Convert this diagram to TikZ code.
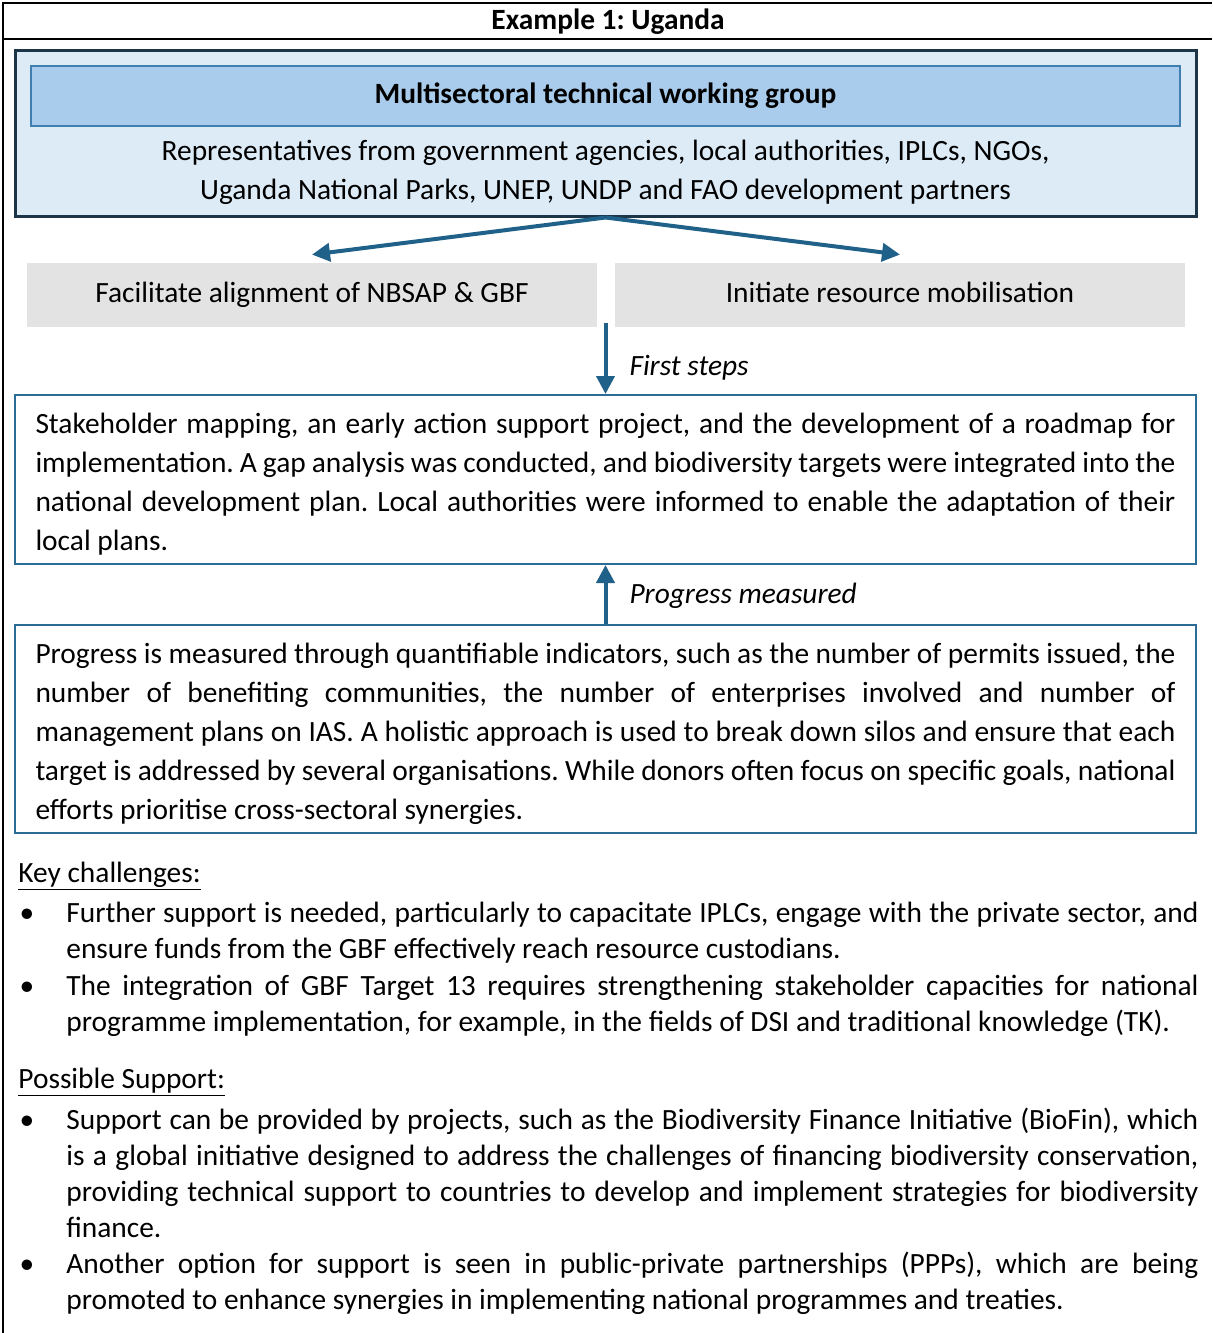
\documentclass[tikz,border=0pt]{standalone}
\usepackage{fontspec}
\setmainfont{Carlito}
\usepackage{tikz}
\usetikzlibrary{arrows.meta}
\definecolor{wgfill}{HTML}{DDEBF7}
\definecolor{wgdraw}{HTML}{1C3547}
\definecolor{headfill}{HTML}{A9CCEC}
\definecolor{headdraw}{HTML}{3F7FAF}
\definecolor{flowblue}{HTML}{1F6189}
\definecolor{boxblue}{HTML}{2C6D98}
\definecolor{boxgrey}{HTML}{E3E3E3}
\newcommand{\boxtop}{\rule{0pt}{19pt}}
\newcommand{\boxbot}{\rule[-7pt]{0pt}{7pt}}
\tikzset{flow/.style={draw=flowblue, line width=2pt, -{Triangle[width=9pt,length=9pt]}},
         steplabel/.style={pos=0.74, anchor=base west, inner sep=0pt, xshift=11pt, font=\itshape},
         wgbox/.style={fill=wgfill, draw=wgdraw, line width=1.5pt, inner sep=0pt},
         headbox/.style={fill=headfill, draw=headdraw, line width=1pt, inner sep=0pt,
                         minimum width=574.5pt, minimum height=30pt,
                         text height=10pt, text depth=3pt, font=\bfseries},
         greybox/.style={fill=boxgrey, inner sep=0pt, minimum width=285pt, minimum height=32pt,
                         text height=10pt, text depth=3pt},
         textbox/.style={draw=boxblue, line width=1pt, fill=white, text width=570pt,
                         align=justify, inner xsep=10.25pt, inner ysep=0pt},
         bullettext/.style={anchor=north west, inner sep=0pt, text width=566pt, align=justify,
                            font=\fontsize{14.7}{18}\selectfont}}
\begin{document}
\fontsize{14.7}{19.5}\selectfont\frenchspacing
\begin{tikzpicture}[x=0.5pt,y=-0.5pt]
\useasboundingbox (0,0) rectangle (1212,1333);
% Rahmen:
\draw[line width=1pt] (2.5,1333) -- (2.5,2.5) -- (1212,2.5);
\draw[line width=1pt] (2.5,39) -- (1212,39);
\node[anchor=base, inner sep=0pt, font=\bfseries] (title) at (608,29.5) {Example 1: Uganda};
% Arbeitsgruppe:
\node[wgbox, minimum width=590.5pt, minimum height=83pt] (wg) at (605.5,133) {};
\node[headbox] (head) at (605.5,96) {Multisectoral technical working group};
\node[anchor=north, align=center, inner sep=0pt] (reps) at (605.5,132.7)
  {\strut Representatives from government agencies, local authorities, IPLCs, NGOs,\\
   Uganda National Parks, UNEP, UNDP and FAO development partners};
\node[greybox] (align) at (312,295) {Facilitate alignment of NBSAP \& GBF};
\node[greybox] (mobil) at (900,295) {Initiate resource mobilisation};
\draw[flow] (wg.south) -- ([yshift=4pt]align.north);
\draw[flow] (wg.south) -- ([yshift=4pt]mobil.north);
% Erste Schritte:
\coordinate (gap) at (605.5,323);
\node[textbox, anchor=north] (steps) at (605.5,394)
  {\boxtop Stakeholder mapping, an early action support project, and the development of a roadmap for\linebreak
   implementation. A gap analysis was conducted, and biodiversity targets were integrated into the\linebreak
   national development plan. Local authorities were informed to enable the adaptation of their\linebreak
   local plans.\boxbot};
\draw[flow] (gap) -- node[steplabel] {First steps} (steps.north);
% Fortschritt:
\node[textbox, anchor=north] (progress) at (605.5,624)
  {\boxtop Progress is measured through quantifiable indicators, such as the number of permits issued, the\linebreak
   number of benefiting communities, the number of enterprises involved and number of\linebreak
   management plans on IAS. A holistic approach is used to break down silos and ensure that each\linebreak
   target is addressed by several organisations. While donors often focus on specific goals, national\linebreak
   efforts prioritise cross-sectoral synergies.\boxbot};
\draw[flow] (progress.north) -- node[steplabel, pos=0.34] {Progress measured} (steps.south);
% Listen:
\node[anchor=base west, inner sep=0pt] (kc) at (18,882) {\underline{Key challenges:}};
\node[anchor=base west, inner sep=0pt] (ps) at (18,1088) {\underline{Possible Support:}};
\foreach \y/\n in {922/1,995/2,1129/3,1273/4}
  \node[anchor=base, inner sep=0pt] (dot\n) at (27,\y) {\textbullet};
\node[bullettext] (kc1) at (66,896.8)
  {\strut Further support is needed, particularly to capacitate IPLCs, engage with the private sector, and\linebreak
   ensure funds from the GBF effectively reach resource custodians.};
\node[bullettext] (kc2) at (66,969.8)
  {\strut The integration of GBF Target 13 requires strengthening stakeholder capacities for national\linebreak
   programme implementation, for example, in the fields of DSI and traditional knowledge (TK).};
\node[bullettext] (ps1) at (66,1103.8)
  {\strut Support can be provided by projects, such as the Biodiversity Finance Initiative (BioFin), which\linebreak
   is a global initiative designed to address the challenges of financing biodiversity conservation,\linebreak
   providing technical support to countries to develop and implement strategies for biodiversity\linebreak
   finance.};
\node[bullettext] (ps2) at (66,1247.8)
  {\strut Another option for support is seen in public-private partnerships (PPPs), which are being\linebreak
   promoted to enhance synergies in implementing national programmes and treaties.};
\end{tikzpicture}
\end{document}
